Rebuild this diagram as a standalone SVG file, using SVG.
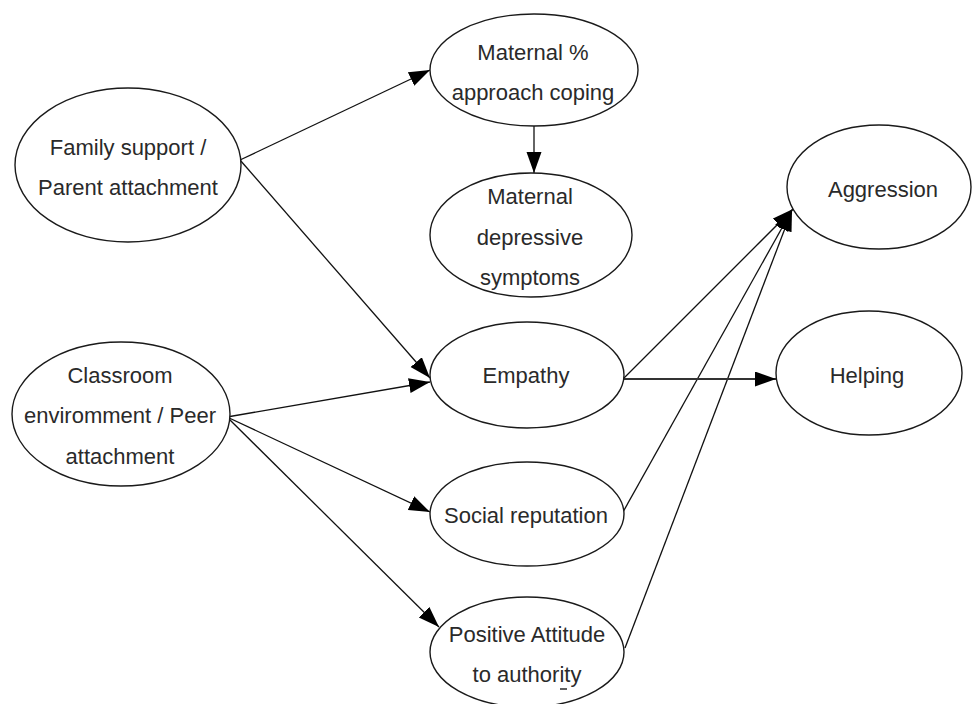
<svg xmlns="http://www.w3.org/2000/svg" width="973" height="704" viewBox="0 0 973 704">
  <defs>
    <marker id="arrow" markerUnits="userSpaceOnUse" markerWidth="22" markerHeight="16" refX="21" refY="7.5" orient="auto">
      <path d="M0,0 L21,7.5 L0,15 Z" fill="#000"/>
    </marker>
  </defs>
  <style>
    .node ellipse { fill: #fff; stroke: #1a1a1a; stroke-width: 1.4; }
    .node text { font-family: "Liberation Sans", Arial, sans-serif; font-size: 22px; fill: #2a2a2a; text-anchor: middle; }
    .edge { stroke: #111; stroke-width: 1.3; fill: none; marker-end: url(#arrow); }
    .edge.thick { stroke-width: 2.2; stroke: #333; }
  </style>
  <rect width="973" height="704" fill="#fff"/>

  <!-- connectors -->
  <g id="connectors">
    <line class="edge" x1="240" y1="160" x2="430" y2="70"/>
    <line class="edge" x1="240" y1="160" x2="430" y2="378"/>
    <line class="edge" x1="534" y1="126" x2="534" y2="173"/>
    <line class="edge" x1="227" y1="417" x2="430" y2="382"/>
    <line class="edge" x1="227" y1="417" x2="430" y2="512"/>
    <line class="edge" x1="227" y1="417" x2="439" y2="627"/>
    <line class="edge" x1="624" y1="378" x2="793" y2="209"/>
    <line class="edge" x1="623" y1="512" x2="792" y2="210"/>
    <line class="edge" x1="625" y1="648" x2="792" y2="210"/>
    <line class="edge thick" x1="624" y1="379" x2="776" y2="379"/>
  </g>

  <!-- nodes -->
  <g id="family-support" class="node">
    <ellipse cx="128" cy="165" rx="113" ry="77"/>
    <text x="128" y="155">Family support /</text>
    <text x="128" y="195">Parent attachment</text>
  </g>

  <g id="maternal-coping" class="node">
    <ellipse cx="534" cy="70" rx="104" ry="56"/>
    <text x="533" y="60">Maternal %</text>
    <text x="533" y="100">approach coping</text>
  </g>

  <g id="maternal-depressive" class="node">
    <ellipse cx="531" cy="235" rx="101" ry="62"/>
    <text x="530" y="204">Maternal</text>
    <text x="530" y="245">depressive</text>
    <text x="530" y="285">symptoms</text>
  </g>

  <g id="classroom" class="node">
    <ellipse cx="121" cy="414" rx="109" ry="72"/>
    <text x="120" y="383">Classroom</text>
    <text x="120" y="423">enviromment / Peer</text>
    <text x="120" y="464">attachment</text>
  </g>

  <g id="empathy" class="node">
    <ellipse cx="527" cy="375" rx="97" ry="53"/>
    <text x="526" y="383">Empathy</text>
  </g>

  <g id="social-reputation" class="node">
    <ellipse cx="527" cy="514" rx="97" ry="52"/>
    <text x="526" y="523">Social reputation</text>
  </g>

  <g id="positive-attitude" class="node">
    <ellipse cx="527" cy="652" rx="97" ry="55"/>
    <text x="527" y="642">Positive Attitude</text>
    <text x="527" y="682">to authority</text>
    <line x1="560" y1="689" x2="567" y2="689" stroke="#2a2a2a" stroke-width="1.5"/>
  </g>

  <g id="aggression" class="node">
    <ellipse cx="879" cy="187" rx="92" ry="62"/>
    <text x="883" y="197">Aggression</text>
  </g>

  <g id="helping" class="node">
    <ellipse cx="869" cy="373" rx="93" ry="62"/>
    <text x="867" y="383">Helping</text>
  </g>
</svg>
